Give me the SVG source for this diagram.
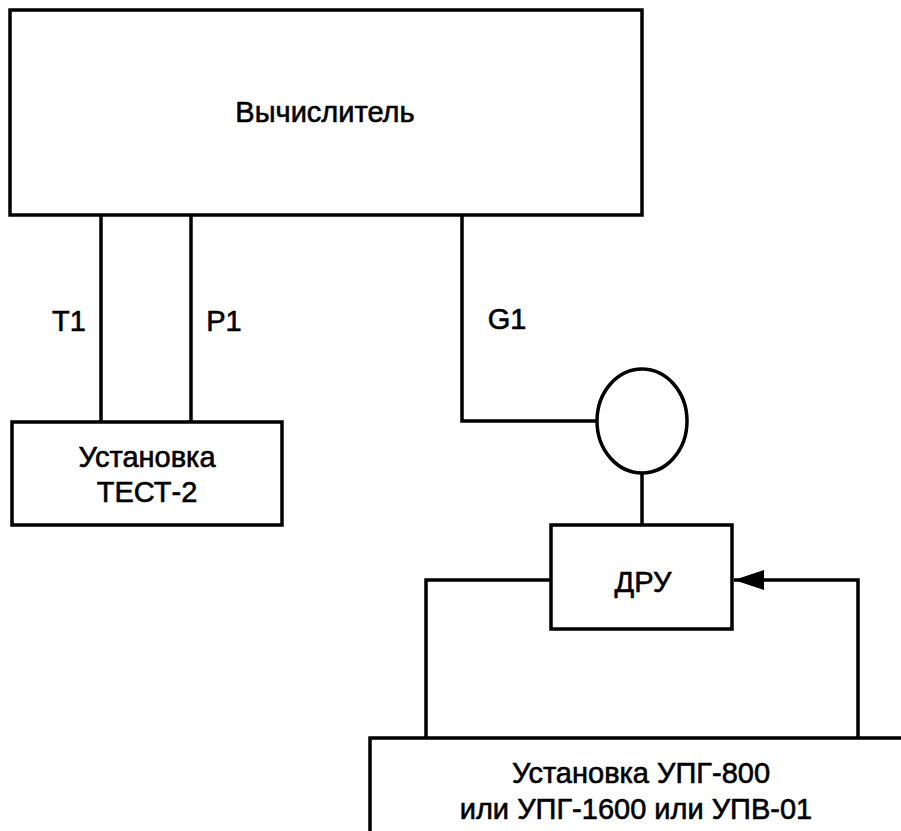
<svg xmlns="http://www.w3.org/2000/svg" width="901" height="831" viewBox="0 0 901 831">
<style>
.box{fill:#fff;stroke:#000;stroke-width:3.5}
.ln{fill:none;stroke:#000;stroke-width:3.5}
text{font-family:"Liberation Sans",Arial,sans-serif;font-size:29px;fill:#000;stroke:#000;stroke-width:0.6;text-anchor:middle}
</style>
<defs>
<marker id="arr" viewBox="0 0 30 20" refX="30" refY="10" markerWidth="30" markerHeight="20" markerUnits="userSpaceOnUse" orient="auto">
<path d="M0,0 L30,10 L0,20 Z" fill="#000"/>
</marker>
</defs>
<rect width="901" height="831" fill="#fff"/>
<g id="connectors">
<line class="ln" x1="101" y1="215" x2="101" y2="422"/>
<line class="ln" x1="191" y1="215" x2="191" y2="422"/>
<polyline class="ln" points="462,215 462,421 597,421"/>
<line class="ln" x1="642" y1="473" x2="642" y2="525"/>
<polyline class="ln" points="551,580 426,580 426,738"/>
<polyline class="ln" points="858,738 858,580 734,580" marker-end="url(#arr)"/>
<text x="69" y="331">T1</text>
<text x="224" y="331">P1</text>
<text x="507" y="329">G1</text>
</g>
<g id="vychislitel">
<rect class="box" x="10" y="10" width="632" height="205"/>
<text x="325" y="122">Вычислитель</text>
</g>
<g id="test2">
<rect class="box" x="12" y="422" width="270" height="103"/>
<text x="147" y="467">Установка</text>
<text x="147" y="502">ТЕСТ-2</text>
</g>
<g id="meter">
<ellipse class="box" cx="642" cy="421" rx="45" ry="52"/>
</g>
<g id="dru">
<rect class="box" x="551" y="525" width="181" height="104"/>
<text x="643" y="592">ДРУ</text>
</g>
<g id="upg">
<rect class="box" x="370" y="738" width="560" height="120"/>
<text x="641" y="783">Установка УПГ-800</text>
<text x="636" y="819">или УПГ-1600 или УПВ-01</text>
</g>
</svg>
